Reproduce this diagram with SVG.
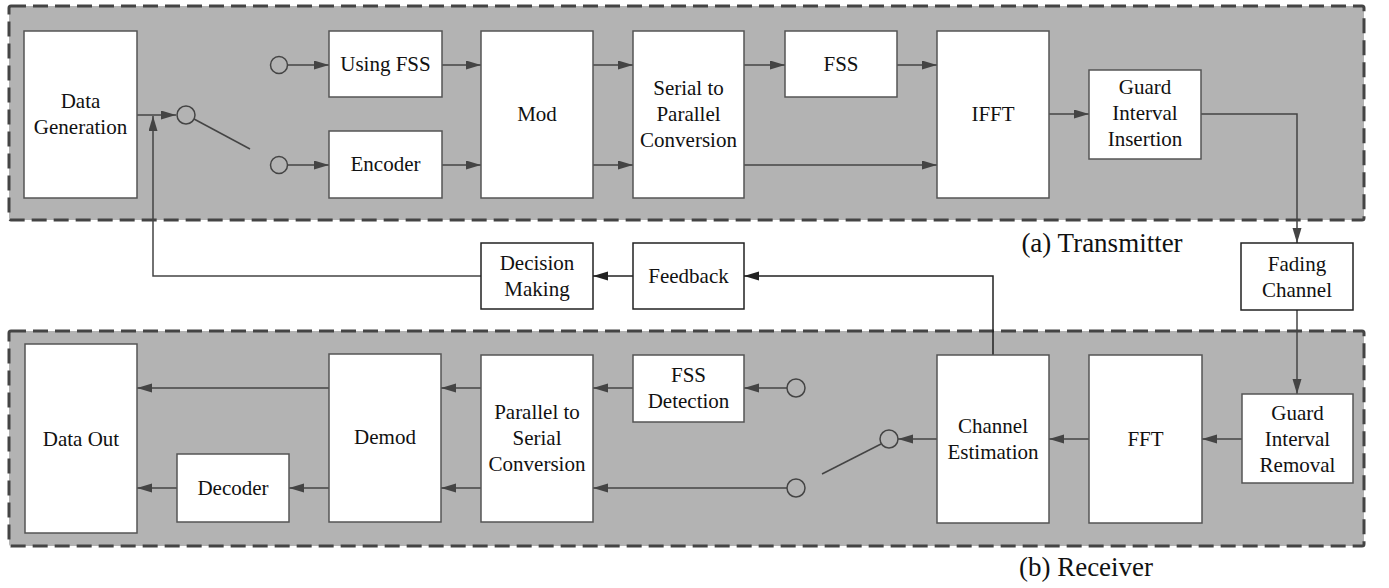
<svg xmlns="http://www.w3.org/2000/svg" width="1389" height="588" viewBox="0 0 1389 588">
<style>
.panel{fill:#b3b3b3;stroke:#444;stroke-width:3;stroke-dasharray:15 7}
.box{fill:#fff;stroke:#555;stroke-width:1.5}
.obox{fill:#fff;stroke:#222;stroke-width:1.5}
.c{fill:none;stroke:#444;stroke-width:1.5}
.co{fill:none;stroke:#222;stroke-width:1.5}
.sw{fill:none;stroke:#444;stroke-width:1.5}
</style>
<defs>
<marker id="a" markerUnits="userSpaceOnUse" markerWidth="15" markerHeight="10" refX="15" refY="4.5" orient="auto"><path d="M0,0 L15,4.5 L0,9 z" fill="#444"/></marker>
<marker id="ab" markerUnits="userSpaceOnUse" markerWidth="15" markerHeight="10" refX="15" refY="4.5" orient="auto"><path d="M0,0 L15,4.5 L0,9 z" fill="#222"/></marker>
</defs>
<g id="panels">
<rect class="panel" x="9" y="6" width="1355" height="214" rx="2"/>
<rect class="panel" x="9" y="331" width="1355" height="215" rx="2"/>
</g>
<g id="connectors">
<line class="c" x1="137" y1="115" x2="176" y2="115" marker-end="url(#a)"/>
<line class="sw" x1="194" y1="119" x2="250" y2="149"/>
<circle class="sw" cx="186" cy="115" r="9"/>
<circle class="sw" cx="279" cy="65" r="8.5"/>
<circle class="sw" cx="279" cy="165" r="8.5"/>
<line class="c" x1="288" y1="65" x2="329" y2="65" marker-end="url(#a)"/>
<line class="c" x1="288" y1="165" x2="329" y2="165" marker-end="url(#a)"/>
<line class="c" x1="442" y1="65" x2="481" y2="65" marker-end="url(#a)"/>
<line class="c" x1="442" y1="165" x2="481" y2="165" marker-end="url(#a)"/>
<line class="c" x1="593" y1="65" x2="633" y2="65" marker-end="url(#a)"/>
<line class="c" x1="593" y1="165" x2="633" y2="165" marker-end="url(#a)"/>
<line class="c" x1="744" y1="65" x2="785" y2="65" marker-end="url(#a)"/>
<line class="c" x1="897" y1="65" x2="937" y2="65" marker-end="url(#a)"/>
<line class="c" x1="744" y1="165" x2="937" y2="165" marker-end="url(#a)"/>
<line class="c" x1="1049" y1="114" x2="1089" y2="114" marker-end="url(#a)"/>
<polyline class="c" points="1201,114 1297,114 1297,243" marker-end="url(#a)"/>
<line class="c" x1="1297" y1="310" x2="1297" y2="394" marker-end="url(#a)"/>
<polyline class="co" points="993,355 993,276 744,276" marker-end="url(#ab)"/>
<line class="co" x1="633" y1="276" x2="593" y2="276" marker-end="url(#ab)"/>
<polyline class="c" points="481,276 153,276 153,116" marker-end="url(#a)"/>
<line class="c" x1="1242" y1="439" x2="1202" y2="439" marker-end="url(#a)"/>
<line class="c" x1="1089" y1="439" x2="1049" y2="439" marker-end="url(#a)"/>
<line class="c" x1="937" y1="439" x2="898" y2="439" marker-end="url(#a)"/>
<circle class="sw" cx="889" cy="439" r="9"/>
<line class="sw" x1="881" y1="444" x2="822" y2="474"/>
<circle class="sw" cx="796" cy="388" r="9"/>
<circle class="sw" cx="796" cy="488" r="9"/>
<line class="c" x1="787" y1="388" x2="744" y2="388" marker-end="url(#a)"/>
<line class="c" x1="787" y1="488" x2="593" y2="488" marker-end="url(#a)"/>
<line class="c" x1="633" y1="388" x2="593" y2="388" marker-end="url(#a)"/>
<line class="c" x1="481" y1="388" x2="441" y2="388" marker-end="url(#a)"/>
<line class="c" x1="481" y1="488" x2="441" y2="488" marker-end="url(#a)"/>
<line class="c" x1="329" y1="388" x2="137" y2="388" marker-end="url(#a)"/>
<line class="c" x1="329" y1="488" x2="289" y2="488" marker-end="url(#a)"/>
<line class="c" x1="177" y1="488" x2="137" y2="488" marker-end="url(#a)"/>
</g>
<g font-family="Liberation Serif, DejaVu Serif, serif" font-size="21" fill="#111" text-anchor="middle">
<g id="datagen"><rect class="box" x="24" y="31" width="113" height="167"/><text x="80.5" y="108">Data</text><text x="80.5" y="134">Generation</text></g>
<g id="usingfss"><rect class="box" x="329" y="31" width="113" height="66"/><text x="385.5" y="71">Using FSS</text></g>
<g id="encoder"><rect class="box" x="329" y="131" width="113" height="67"/><text x="385.5" y="171">Encoder</text></g>
<g id="mod"><rect class="box" x="481" y="31" width="112" height="167"/><text x="537" y="121">Mod</text></g>
<g id="s2p"><rect class="box" x="633" y="31" width="111" height="167"/><text x="688.5" y="95">Serial to</text><text x="688.5" y="121">Parallel</text><text x="688.5" y="147">Conversion</text></g>
<g id="fss"><rect class="box" x="785" y="31" width="112" height="66"/><text x="841" y="71">FSS</text></g>
<g id="ifft"><rect class="box" x="937" y="31" width="112" height="167"/><text x="993" y="121">IFFT</text></g>
<g id="gii"><rect class="box" x="1089" y="70" width="112" height="89"/><text x="1145" y="94">Guard</text><text x="1145" y="120">Interval</text><text x="1145" y="146">Insertion</text></g>
<g id="fading"><rect class="obox" x="1241" y="243" width="112" height="67"/><text x="1297" y="271">Fading</text><text x="1297" y="297">Channel</text></g>
<g id="decision"><rect class="obox" x="481" y="243" width="112" height="66"/><text x="537" y="270">Decision</text><text x="537" y="296">Making</text></g>
<g id="feedback"><rect class="obox" x="633" y="243" width="111" height="66"/><text x="688.5" y="283">Feedback</text></g>
<g id="dataout"><rect class="box" x="25" y="344" width="112" height="189"/><text x="81" y="446">Data Out</text></g>
<g id="decoder"><rect class="box" x="177" y="454" width="112" height="68"/><text x="233" y="495">Decoder</text></g>
<g id="demod"><rect class="box" x="329" y="354" width="112" height="168"/><text x="385" y="444">Demod</text></g>
<g id="p2s"><rect class="box" x="481" y="355" width="112" height="167"/><text x="537" y="419">Parallel to</text><text x="537" y="445">Serial</text><text x="537" y="471">Conversion</text></g>
<g id="fssdet"><rect class="box" x="633" y="355" width="111" height="67"/><text x="688.5" y="382">FSS</text><text x="688.5" y="408">Detection</text></g>
<g id="chest"><rect class="box" x="937" y="355" width="112" height="168"/><text x="993" y="433">Channel</text><text x="993" y="459">Estimation</text></g>
<g id="fft"><rect class="box" x="1089" y="355" width="113" height="168"/><text x="1145.5" y="446">FFT</text></g>
<g id="gir"><rect class="box" x="1242" y="394" width="111" height="89"/><text x="1297.5" y="420">Guard</text><text x="1297.5" y="446">Interval</text><text x="1297.5" y="472">Removal</text></g>
<g id="captions" font-size="27"><text x="1102" y="252">(a) Transmitter</text><text x="1086" y="576">(b) Receiver</text></g>
</g>
</svg>
